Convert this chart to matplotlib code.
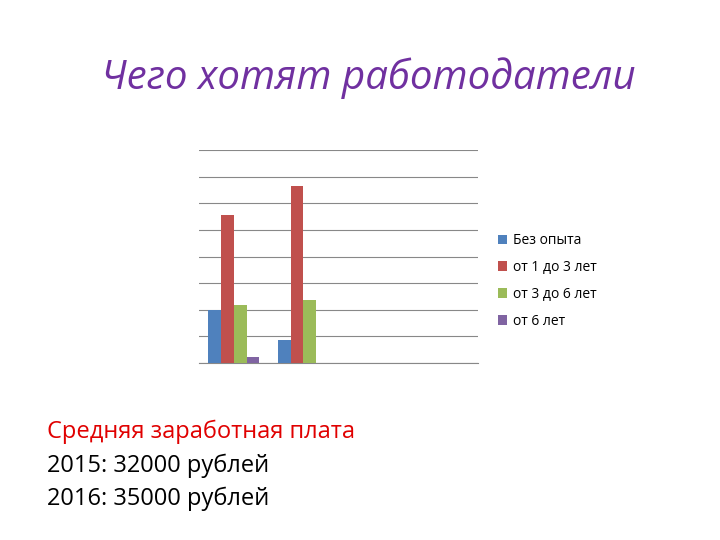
import matplotlib
matplotlib.use("Agg")
import matplotlib.pyplot as plt
import numpy as np

plt.rcParams["font.family"] = ["Open Sans", "DejaVu Sans"]

categories = ["1", "2", "3", "4"]
series = ["Без опыта", "от 1 до 3 лет", "от 3 до 6 лет", "от 6 лет"]
values = {
    "Без опыта": [2.0, 0.86, 0, 0],
    "от 1 до 3 лет": [5.56, 6.65, 0, 0],
    "от 3 до 6 лет": [2.18, 2.37, 0, 0],
    "от 6 лет": [0.23, 0, 0, 0],
}
colors = ["#4f81bd", "#c0504d", "#9bbb59", "#8064a2"]

fig = plt.figure(figsize=(7.2, 5.4), dpi=100)
ax = fig.add_axes([0.276, 0.328, 0.388, 0.394])

x = np.arange(len(categories))
w = 0.185
for i, (s, c) in enumerate(zip(series, colors)):
    ax.bar(x + (i - 1.5) * w, values[s], w, color=c, label=s, zorder=3)

ax.set_xlim(-0.5, 3.5)
ax.set_ylim(0, 8)
ax.set_yticks(range(0, 9))
ax.yaxis.grid(True, color="#888888", lw=0.8, zorder=0)
ax.tick_params(left=False, bottom=False, labelleft=False, labelbottom=False)
for side in ["top", "right", "left"]:
    ax.spines[side].set_visible(False)
ax.spines["bottom"].set_color("#888888")

ax.legend(loc="center left", bbox_to_anchor=(1.05, 0.385), frameon=False,
          fontsize=10, handlelength=0.7, handleheight=0.7, handletextpad=0.4,
          labelspacing=0.85, borderaxespad=0)

fig.text(0.512, 0.855, "Чего хотят работодатели", ha="center", va="center",
         fontsize=29, style="italic", color="#7030a0")

fig.text(0.065, 0.2, "Средняя заработная плата", fontsize=17, color="#e00000", va="center")
fig.text(0.065, 0.137, "2015: 32000 рублей", fontsize=17, color="black", va="center")
fig.text(0.065, 0.076, "2016: 35000 рублей", fontsize=17, color="black", va="center")

fig.savefig("out.png", dpi=100)
